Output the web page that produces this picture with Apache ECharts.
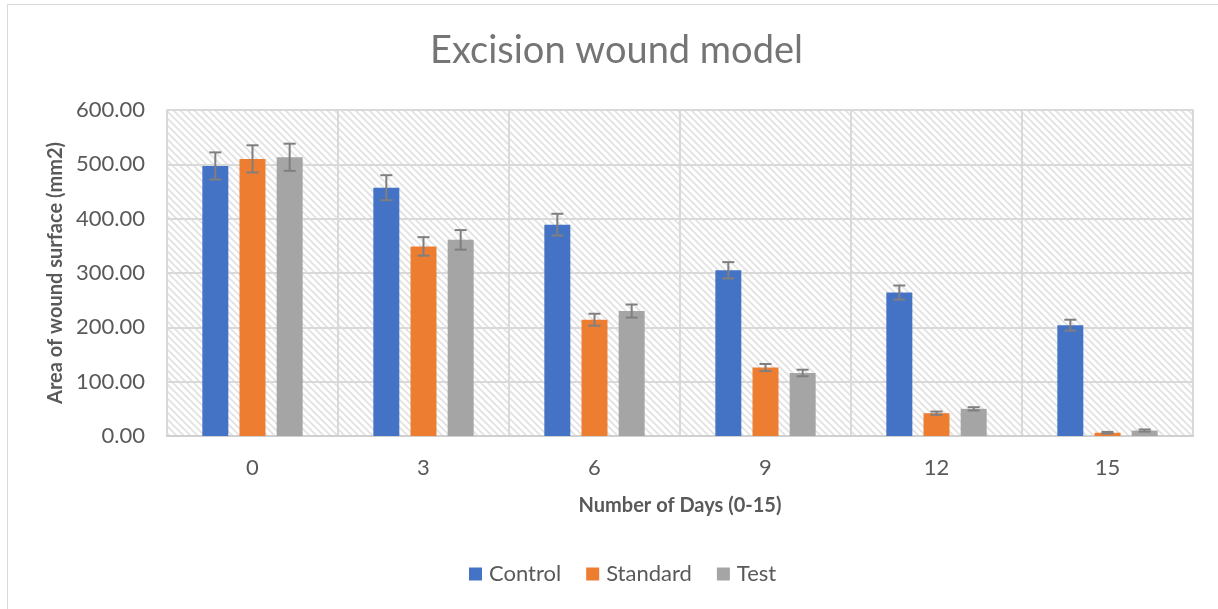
<!DOCTYPE html>
<html>
<head>
<meta charset="utf-8">
<script src="https://cdn.jsdelivr.net/npm/echarts@6/dist/echarts.min.js"></script>
<style>
html,body{margin:0;padding:0;background:#fff;}
#chart{width:1218px;height:609px;}
</style>
</head>
<body>
<div id="chart"></div>
<script>
const days = ['0', '3', '6', '9', '12', '15'];
const seriesNames = ['Control', 'Standard', 'Test'];
const control = [497, 457, 389, 305, 264, 204];
const standard = [510, 349, 214, 126, 42, 6];
const test = [513, 361, 230, 116, 50, 10];
const controlErr = [25, 23, 20, 15, 13, 10];
const standardErr = [25, 17, 11, 6.5, 3, 1.5];
const testErr = [25, 18, 12, 6, 3, 2];
const yTicks = [0, 100, 200, 300, 400, 500, 600];
const colors = ['#4472C4', '#ED7D31', '#A5A5A5'];

const BAR_FRAC = 0.152;
const GAP_FRAC = 0.43;

function makePattern() {
  const p = 7;
  const c = document.createElement('canvas');
  c.width = p; c.height = p;
  const ctx = c.getContext('2d');
  ctx.fillStyle = '#ffffff';
  ctx.fillRect(0, 0, p, p);
  ctx.strokeStyle = '#e2e2e2';
  ctx.lineWidth = 1.8;
  ctx.beginPath();
  ctx.moveTo(-p, -p); ctx.lineTo(2 * p, 2 * p);
  ctx.moveTo(-p, 0); ctx.lineTo(p, 2 * p);
  ctx.moveTo(0, -p); ctx.lineTo(2 * p, p);
  ctx.stroke();
  return c;
}

const values = [control, standard, test];
const errs = [controlErr, standardErr, testErr];
const errData = [];
values.forEach((arr, s) => {
  arr.forEach((v, i) => {
    errData.push([i, v - errs[s][i], v + errs[s][i], s]);
  });
});

const chart = echarts.init(document.getElementById('chart'));
const txt = '#595959';
const font = 'Lato';

const option = {
  animation: false,
  backgroundColor: '#fff',
  textStyle: { fontFamily: font },
  graphic: [{
    type: 'rect',
    shape: { x: 7.5, y: 4.5, width: 1230, height: 620 },
    style: { fill: 'none', stroke: '#d9d9d9', lineWidth: 1 },
    silent: true, z: -1
  }],
  title: {
    text: 'Excision wound model',
    left: 430,
    top: 32,
    padding: 0,
    textStyle: { fontFamily: font, fontSize: 38, fontWeight: 'normal', color: '#757575' }
  },
  legend: {
    data: seriesNames,
    bottom: 19,
    left: 464,
    itemWidth: 13,
    itemHeight: 13,
    itemGap: 25,
    icon: 'rect',
    textStyle: { fontFamily: font, fontSize: 22, color: txt, padding: [0, 0, 0, 2] }
  },
  grid: {
    left: 167, top: 110, right: 25, bottom: 173,
    show: true,
    backgroundColor: { image: makePattern(), repeat: 'repeat' },
    borderColor: '#d9d9d9',
    borderWidth: 1.5
  },
  xAxis: {
    type: 'category',
    data: days,
    name: 'Number of Days (0-15)',
    nameLocation: 'middle',
    nameGap: 60,
    nameTextStyle: { fontFamily: font, fontSize: 20, fontWeight: 'bold', color: txt },
    axisLine: { lineStyle: { color: '#d0d0d0', width: 2 } },
    axisTick: { show: false },
    axisLabel: { fontFamily: font, fontSize: 22, color: txt, margin: 21 },
    splitLine: { show: true, lineStyle: { color: '#d9d9d9', width: 2 } }
  },
  yAxis: {
    type: 'value',
    min: yTicks[0],
    max: yTicks[yTicks.length - 1],
    interval: 100,
    name: 'Area of wound surface (mm2)',
    nameLocation: 'middle',
    nameGap: 100,
    nameTextStyle: { fontFamily: font, fontSize: 20, fontWeight: 'bold', color: txt },
    axisLine: { show: false },
    axisTick: { show: false },
    axisLabel: { fontFamily: font, fontSize: 22, color: txt, margin: 22,
      formatter: v => v.toFixed(2) },
    splitLine: { lineStyle: { color: '#d9d9d9', width: 2 } }
  },
  series: [
    ...seriesNames.map((n, s) => ({
      name: n,
      type: 'bar',
      data: values[s],
      barWidth: (BAR_FRAC * 100) + '%',
      barGap: (GAP_FRAC * 100) + '%',
      itemStyle: { color: colors[s] },
      z: 2
    })),
    {
      type: 'custom',
      name: 'err',
      data: errData,
      encode: { x: 0, y: [1, 2] },
      z: 5,
      renderItem: function (params, api) {
        const i = api.value(0);
        const lo = api.coord([i, api.value(1)]);
        const hi = api.coord([i, api.value(2)]);
        const s = api.value(3);
        const band = api.size([1, 0])[0];
        const bw = band * BAR_FRAC;
        const gap = bw * GAP_FRAC;
        const x = lo[0] + (s - 1) * (bw + gap);
        const cap = 6;
        const style = { stroke: '#7f7f7f', lineWidth: 2, fill: null };
        return {
          type: 'group',
          children: [
            { type: 'line', shape: { x1: x, y1: lo[1], x2: x, y2: hi[1] }, style },
            { type: 'line', shape: { x1: x - cap, y1: hi[1], x2: x + cap, y2: hi[1] }, style },
            { type: 'line', shape: { x1: x - cap, y1: lo[1], x2: x + cap, y2: lo[1] }, style }
          ]
        };
      }
    }
  ]
};
chart.setOption(option);
</script>
</body>
</html>
